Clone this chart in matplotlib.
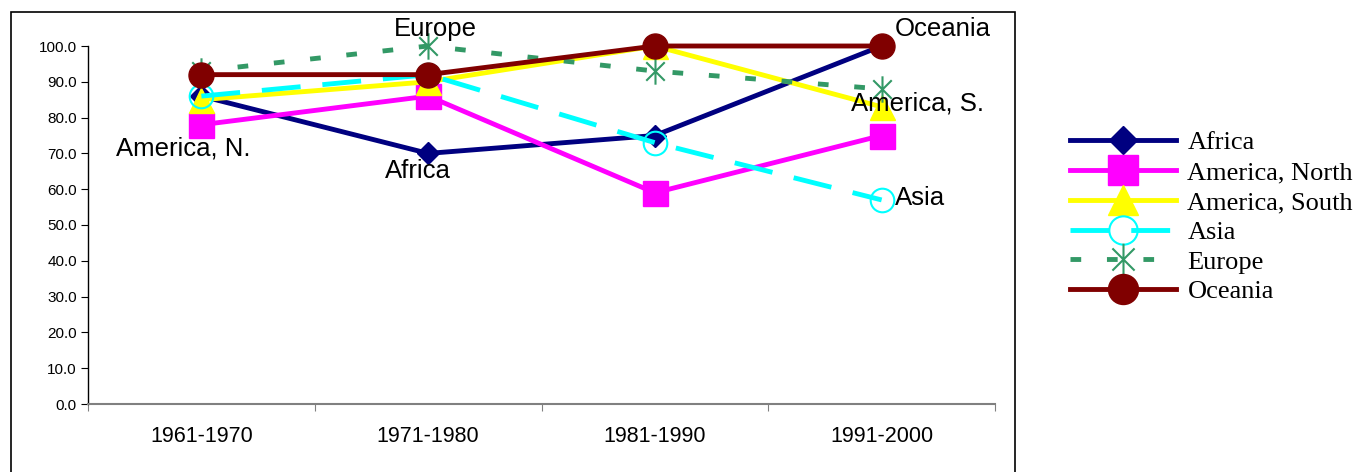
import matplotlib.pyplot as plt
from matplotlib.path import Path
from matplotlib.patches import Rectangle

# decades on the x axis
periods = ['1961-1970', '1971-1980', '1981-1990', '1991-2000']

# values per region
africa = [86.0, 70.0, 75.0, 100.0]
america_north = [78.0, 86.0, 59.0, 75.0]
america_south = [85.0, 90.0, 100.0, 83.0]
asia = [86.0, 92.0, 73.0, 57.0]
europe = [93.0, 100.0, 93.0, 88.0]
oceania = [92.0, 92.0, 100.0, 100.0]

# asterisk marker: vertical bar plus a cross
star = Path([(0, -1), (0, 1), (-0.7, -0.7), (0.7, 0.7), (-0.7, 0.7), (0.7, -0.7)],
            [Path.MOVETO, Path.LINETO] * 3)

fig = plt.figure(figsize=(13.58, 4.72), dpi=100)
ax = fig.add_axes([88/1358, 68/472, 907/1358, 358/472])

x = range(len(periods))
lw = 3.5
kw = dict(lw=lw, clip_on=False)
ax.plot(x, africa, color='#000080', marker='D', ms=11.5, label='Africa', **kw)
ax.plot(x, america_north, color='#FF00FF', marker='s', ms=18, label='America, North', **kw)
ax.plot(x, america_south, color='#FFFF00', marker='^', ms=18, label='America, South', **kw)
ax.plot(x, asia, color='#00FFFF', ls=(0, (8, 4.5)), marker='o', ms=17,
        mfc='none', mec='#00FFFF', mew=1.5, label='Asia', **kw)
ax.plot(x, europe, color='#339966', ls=(0, (2.2, 5.3)), marker=star, ms=19,
        mfc='none', mec='#339966', mew=1.5, label='Europe', **kw)
ax.plot(x, oceania, color='#800000', marker='o', ms=18, label='Oceania', **kw)

# labels next to the series ends
lab = dict(fontsize=18.5, family='Liberation Sans', ha='center', va='center')
ax.text(-0.08, 71.5, 'America, N.', **lab)
ax.text(0.955, 65, 'Africa', **lab)
ax.text(1.03, 104.7, 'Europe', **lab)
ax.text(3.27, 104.7, 'Oceania', **lab)
ax.text(3.16, 83.8, 'America, S.', **lab)
ax.text(3.06, 57.5, 'Asia', fontsize=18.5, family='Liberation Sans', ha='left', va='center')

ax.set_xlim(-0.5, 3.5)
ax.set_ylim(0, 100)
ax.set_xticks([-0.5, 0.5, 1.5, 2.5, 3.5])
ax.set_xticklabels([])
ax.set_xticks(list(x), minor=True)
ax.set_xticklabels(periods, minor=True, fontsize=15.5, family='Liberation Sans')
ax.tick_params(axis='x', which='minor', length=0, pad=16)
ax.tick_params(axis='x', which='major', length=5, color='#808080')
ax.set_yticks(range(0, 101, 10))
ax.set_yticklabels([f'{v:.1f}' for v in range(0, 101, 10)], fontsize=11, family='Liberation Sans')
ax.tick_params(axis='y', length=5, pad=3)

for side in ['top', 'right']:
    ax.spines[side].set_visible(False)
ax.spines['bottom'].set_color('#808080')
ax.spines['bottom'].set_linewidth(1.5)
ax.spines['left'].set_linewidth(1.0)

ax.legend(loc='center left', bbox_to_anchor=(1070/1358, 0.54), bbox_transform=fig.transFigure,
          frameon=False, borderpad=0, borderaxespad=0, handlelength=4.0, handletextpad=0.45,
          labelspacing=0.24, markerscale=1.2, prop={'family': 'Liberation Serif', 'size': 19})

# outer frame around the plot area
fig.patches.append(Rectangle((11/1358, -0.05), 1004/1358, 1.05 - 12/472,
                             transform=fig.transFigure, fill=False, ec='black', lw=1.2))

fig.savefig('out.png', dpi=100)
